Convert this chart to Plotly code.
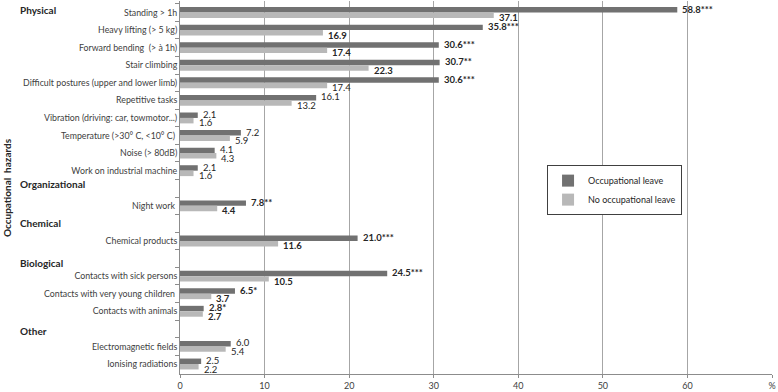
import plotly.graph_objects as go

categories = [
    "Standing > 1h", "Heavy lifting (> 5 kg)", "Forward bending  (> à 1h)", "Stair climbing",
    "Difficult postures (upper and lower limb)", "Repetitive tasks",
    "Vibration (driving: car, towmotor...)", "Temperature (>30° C, <10° C) ", "Noise (> 80dB)",
    "Work on industrial machine", " ", "Night work ", "  ", "Chemical products", "   ",
    "Contacts with sick persons", "Contacts with very young children ", "Contacts with animals",
    "    ", "Electromagnetic fields", "Ionising radiations",
]
occ_values = [58.8, 35.8, 30.6, 30.7, 30.6, 16.1, 2.1, 7.2, 4.1, 2.1, None, 7.8, None, 21.0, None,
              24.5, 6.5, 2.8, None, 6.0, 2.5]
nocc_values = [37.1, 16.9, 17.4, 22.3, 17.4, 13.2, 1.6, 5.9, 4.3, 1.6, None, 4.4, None, 11.6, None,
               10.5, 3.7, 2.7, None, 5.4, 2.2]
occ_sig = ["***", "***", "***", "**", "***", "", "", "", "", "", "", "**", "", "***", "",
           "***", "*", "*", "", "", ""]
occ_bold = [1, 1, 1, 1, 1, 0, 0, 0, 0, 0, 0, 1, 0, 1, 0, 1, 1, 1, 0, 0, 0]
nocc_bold = [1, 1, 1, 1, 0, 0, 0, 0, 0, 0, 0, 1, 0, 1, 0, 1, 1, 1, 0, 0, 0]

groups = ["Physical", "Organizational", "Chemical", "Biological", "Other"]
group_rows = ["Standing > 1h", " ", "  ", "   ", "    "]
group_shift = [3, 4, 0, -4, -2]

x_ticks = [0, 10, 20, 30, 40, 50, 60, 70]
x_ticktext = ["0", "10", "20", "30", "40", "50", "60", "%"]

series_names = ["Occupational leave", "No occupational leave"]
colors = ["#717171", "#b8b8b8"]

FONT = "Lato, Open Sans, sans-serif"
fig = go.Figure()
fig.add_trace(go.Bar(
    y=categories, x=occ_values, orientation="h", name=series_names[0],
    marker=dict(color=colors[0], line=dict(width=0)), legendgroup="a",
))
fig.add_trace(go.Bar(
    y=categories, x=nocc_values, orientation="h", name=series_names[1],
    marker=dict(color=colors[1], line=dict(width=0)), legendgroup="b",
))


def add_value_labels(vals, sig, bold, yshift):
    for cat, v, s, b in zip(categories, vals, sig, bold):
        if v is None:
            continue
        t = f"{v:.1f}{s}"
        fig.add_annotation(x=v, y=cat, xref="x", yref="y", xanchor="left", yanchor="middle",
                           xshift=4, yshift=yshift, showarrow=False, borderpad=0,
                           text=f"<b>{t}</b>" if b else t,
                           font=dict(size=9.5, color="#262626", family=FONT))


add_value_labels(occ_values, occ_sig, occ_bold, 3.5)
add_value_labels(nocc_values, [""] * len(nocc_values), nocc_bold, -5)

for g, r, s in zip(groups, group_rows, group_shift):
    fig.add_annotation(x=-0.274, xref="paper", xanchor="left", y=r, yref="y", yshift=s,
                       text=f"<b>{g}</b>", showarrow=False,
                       font=dict(size=10, color="#262626", family=FONT))

fig.add_annotation(x=-0.293, xref="paper", xanchor="center", y=0.5, yref="paper",
                   yanchor="middle", textangle=-90,
                   text="<b>Occupational  hazards</b>", showarrow=False,
                   font=dict(size=10, color="#262626", family=FONT))

fig.update_layout(
    width=778, height=392,
    margin=dict(l=180, r=6, t=1, b=18, autoexpand=False),
    barmode="group", bargap=0.38, bargroupgap=0,
    plot_bgcolor="white", paper_bgcolor="white",
    font=dict(family=FONT, size=9, color="#404040"),
    legend=dict(x=0.62, y=0.56, xanchor="left", yanchor="top",
                bordercolor="#404040", borderwidth=1, bgcolor="white",
                font=dict(size=9, color="#262626"), tracegroupgap=0,
                itemwidth=30),
    xaxis=dict(range=[0, 70], tickvals=x_ticks, ticktext=x_ticktext, automargin=False,
               showgrid=True, gridcolor="#a6a6a6", gridwidth=1,
               showline=True, linecolor="#8c8c8c", ticks="outside", ticklen=3,
               tickcolor="#8c8c8c", zeroline=False, tickfont=dict(size=9, color="#404040")),
    yaxis=dict(type="category", categoryorder="array", categoryarray=categories,
               autorange="reversed", showgrid=False, showline=True, linecolor="#8c8c8c",
               automargin=False,
               ticks="outside", tickson="boundaries", ticklen=4, tickcolor="#8c8c8c",
               tickfont=dict(size=8.8, color="#404040")),
)

fig.write_html("out.html", config={"displayModeBar": False},
               post_script="document.body.style.margin='0';")
